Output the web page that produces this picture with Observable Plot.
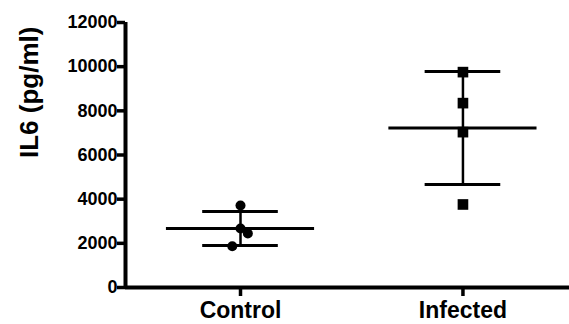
<!DOCTYPE html>
<html>
<head>
<meta charset="utf-8">
<script src="https://cdn.jsdelivr.net/npm/d3@7"></script>
<script src="https://cdn.jsdelivr.net/npm/@observablehq/plot@0.6"></script>
<style>
  html, body { margin: 0; padding: 0; background: #fff; }
</style>
</head>
<body>
<div id="chart"></div>
<script>
const categories = ["Control", "Infected"];
const controlValues = [3715, 2670, 2446, 1871];
const infectedValues = [9753, 8349, 7035, 3760];
const controlJitter = [0, 0, 0.033, -0.037];
const infectedJitter = [0, 0, 0, 0];
const yTicks = [0, 2000, 4000, 6000, 8000, 10000, 12000];
const yLabel = "IL6 (pg/ml)";

const groups = [
  {name: categories[0], values: controlValues, jitter: controlJitter, symbol: "circle"},
  {name: categories[1], values: infectedValues, jitter: infectedJitter, symbol: "square"}
];
const points = groups.flatMap((g, i) => g.values.map((v, j) => ({i, value: v, x: i + g.jitter[j], symbol: g.symbol})));
const summary = groups.map((g, i) => {
  const m = d3.mean(g.values), s = d3.deviation(g.values);
  return {i, mean: m, lo: m - s, hi: m + s};
});
const xDomain = [-0.517, 1.479];
const meanHalf = 0.333, capHalf = 0.17;

const chart = Plot.plot({
  width: 569, height: 324, marginLeft: 125, marginRight: 0, marginTop: 22, marginBottom: 37,
  style: {fontFamily: "Arial, 'Liberation Sans', sans-serif"},
  x: {type: "linear", domain: xDomain, axis: null},
  y: {domain: [0, 12000], axis: null},
  marks: [
    Plot.axisY({ticks: yTicks, tickFormat: d3.format("d"), tickSize: 8, tickPadding: 0, fontSize: 18, fontWeight: "bold", stroke: "black", fill: "black", strokeWidth: 3.5, label: null}),
    Plot.axisX({ticks: [0, 1], tickFormat: i => categories[i], tickSize: 9, tickPadding: 5, fontSize: 23, fontWeight: "bold", stroke: "black", fill: "black", strokeWidth: 3.5, label: null}),
    Plot.text([yLabel], {frameAnchor: "left", rotate: -90, dx: -96, dy: 3, fontSize: 26, fontWeight: "bold", fill: "black"}),
    Plot.ruleY(summary, {y: "mean", x1: d => d.i - meanHalf, x2: d => d.i + meanHalf, stroke: "black", strokeWidth: 3}),
    Plot.ruleY(summary, {y: "hi", x1: d => d.i - capHalf, x2: d => d.i + capHalf, stroke: "black", strokeWidth: 3}),
    Plot.ruleY(summary, {y: "lo", x1: d => d.i - capHalf, x2: d => d.i + capHalf, stroke: "black", strokeWidth: 3}),
    Plot.ruleX(summary, {x: "i", y1: "lo", y2: "hi", stroke: "black", strokeWidth: 2.5}),
    Plot.dot(points.filter(d => d.symbol === "circle"), {x: "x", y: "value", r: 5, symbol: "circle", fill: "black"}),
    Plot.dot(points.filter(d => d.symbol === "square"), {x: "x", y: "value", r: 6, symbol: "square", fill: "black"}),
    Plot.ruleY([0], {stroke: "black", strokeWidth: 4}),
    Plot.ruleX([xDomain[0]], {y1: 0, y2: 12000, stroke: "black", strokeWidth: 4})
  ]
});
document.getElementById("chart").appendChild(chart);
</script>
</body>
</html>
